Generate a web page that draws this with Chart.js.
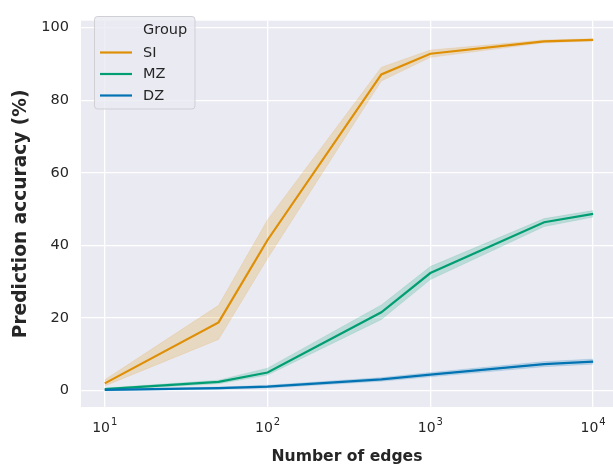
<!DOCTYPE html>
<html>
  <head>
    <meta charset="UTF-8" />
    <title>Prediction accuracy</title>
    <script src="https://cdn.jsdelivr.net/npm/chart.js@4.4.0/dist/chart.umd.min.js"></script>
    <style>
      body { margin: 0; background: #ffffff; overflow: hidden; }
      #chartContainer { width: 613px; height: 468px; }
    </style>
  </head>
  <body>
    <div id="chartContainer"><canvas id="chart" width="613" height="468"></canvas></div>
    <script>
      // values
      const edges = [10, 50, 100, 500, 1000, 5000, 10000];
      const groups = ["SI", "MZ", "DZ"];
      const colors = ["#DE8F05", "#029E73", "#0173B2"];

      const siMean = [2.0, 18.8, 41.5, 87.1, 92.8, 96.2, 96.6];
      const siLow = [1.3, 14.1, 36.4, 85.3, 91.8, 95.8, 96.3];
      const siHigh = [3.0, 23.5, 47.1, 89.1, 93.8, 96.6, 96.9];

      const mzMean = [0.45, 2.4, 5.0, 21.6, 32.4, 46.4, 48.7];
      const mzLow = [0.2, 1.9, 4.3, 19.6, 30.6, 45.2, 47.8];
      const mzHigh = [0.7, 2.9, 6.2, 23.6, 34.2, 47.4, 49.6];

      const dzMean = [0.2, 0.7, 1.1, 3.1, 4.4, 7.3, 8.0];
      const dzLow = [0.0, 0.4, 0.7, 2.6, 3.8, 6.6, 7.3];
      const dzHigh = [0.4, 1.0, 1.5, 3.6, 5.0, 8.0, 8.7];

      const xTicks = [10, 100, 1000, 10000];
      const xTickBase = "10";
      const xTickExp = ["1", "2", "3", "4"];
      const yTicks = [0, 20, 40, 60, 80, 100];

      const series = [
        { mean: siMean, low: siLow, high: siHigh },
        { mean: mzMean, low: mzLow, high: mzHigh },
        { mean: dzMean, low: dzLow, high: dzHigh },
      ];

      const FONT = "'DejaVu Sans', sans-serif";
      const TEXT = "#262626";

      function alpha(hex, a) {
        const n = parseInt(hex.slice(1), 16);
        return `rgba(${(n >> 16) & 255},${(n >> 8) & 255},${n & 255},${a})`;
      }
      const pts = (arr) => arr.map((v, i) => ({ x: edges[i], y: v }));

      const datasets = [];
      series.forEach((s, g) => {
        const base = (groups.length - 1 - g) * 3;
        datasets.push({
          label: groups[g] + " high",
          data: pts(s.high),
          borderColor: alpha(colors[g], 0.12),
          borderWidth: 1,
          pointRadius: 0,
          fill: false,
          order: base + 2,
        });
        datasets.push({
          label: groups[g] + " low",
          data: pts(s.low),
          borderColor: alpha(colors[g], 0.12),
          borderWidth: 1,
          backgroundColor: alpha(colors[g], 0.2),
          pointRadius: 0,
          fill: "-1",
          order: base + 1,
        });
        datasets.push({
          label: groups[g],
          data: pts(s.mean),
          borderColor: colors[g],
          borderWidth: 2.2,
          pointRadius: 0,
          fill: false,
          order: base,
        });
      });

      // plot background
      const plotBg = {
        id: "plotBg",
        beforeDraw(chart) {
          const { ctx, chartArea: a } = chart;
          ctx.save();
          ctx.fillStyle = "#EAEAF2";
          ctx.fillRect(a.left, a.top, a.right - a.left, a.bottom - a.top);
          ctx.restore();
        },
      };

      // 10^n labels with a raised exponent, like matplotlib mathtext
      const powerLabels = {
        id: "powerLabels",
        afterDraw(chart) {
          const { ctx } = chart;
          const xs = chart.scales.x;
          ctx.save();
          ctx.fillStyle = TEXT;
          ctx.textBaseline = "alphabetic";
          ctx.textAlign = "left";
          xTicks.forEach((v, i) => {
            ctx.font = `14px ${FONT}`;
            const wb = ctx.measureText(xTickBase).width;
            ctx.font = `10px ${FONT}`;
            const we = ctx.measureText(xTickExp[i]).width;
            const x0 = xs.getPixelForValue(v) - (wb + 1 + we) / 2;
            ctx.font = `14px ${FONT}`;
            ctx.fillText(xTickBase, x0, 431.5);
            ctx.font = `10px ${FONT}`;
            ctx.fillText(xTickExp[i], x0 + wb + 1, 425);
          });
          ctx.restore();
        },
      };

      // seaborn style legend box with "Group" as first entry
      const groupLegend = {
        id: "groupLegend",
        afterDatasetsDraw(chart) {
          const { ctx } = chart;
          const x = 94.5, y = 16.5, w = 100.5, h = 92.5, r = 3;
          ctx.save();
          ctx.beginPath();
          ctx.roundRect(x, y, w, h, r);
          ctx.fillStyle = "rgba(234,234,242,0.8)";
          ctx.fill();
          ctx.strokeStyle = "#cfcfd4";
          ctx.lineWidth = 1;
          ctx.stroke();
          ctx.font = `14.5px ${FONT}`;
          ctx.fillStyle = TEXT;
          ctx.textBaseline = "middle";
          ctx.fillText("Group", 143, 30);
          groups.forEach((name, i) => {
            const yy = 52.5 + i * 21.5;
            ctx.beginPath();
            ctx.moveTo(100, yy);
            ctx.lineTo(132, yy);
            ctx.strokeStyle = colors[i];
            ctx.lineWidth = 2.2;
            ctx.stroke();
            ctx.fillText(name, 143, yy + 0.5);
          });
          ctx.restore();
        },
      };

      new Chart(document.getElementById("chart"), {
        type: "line",
        data: { datasets },
        plugins: [plotBg, groupLegend, powerLabels],
        options: {
          responsive: false,
          devicePixelRatio: 1,
          animation: false,
          layout: { padding: { top: 8, right: 0, left: 0, bottom: 0 } },
          plugins: { legend: { display: false }, tooltip: { enabled: false } },
          elements: { line: { tension: 0 } },
          scales: {
            x: {
              type: "logarithmic",
              min: Math.pow(10, 0.854),
              max: Math.pow(10, 4.122),
              border: { display: false },
              grid: { color: "#ffffff", lineWidth: 1.3, drawTicks: false },
              afterBuildTicks(scale) {
                scale.ticks = xTicks.map((v) => ({ value: v }));
              },
              afterFit(scale) {
                scale.height = 61;
              },
              ticks: { display: false },
              title: {
                display: true,
                text: "Number of edges",
                color: TEXT,
                font: { family: FONT, size: 15.6, weight: "bold" },
                padding: { top: 0, bottom: 2 },
              },
            },
            y: {
              type: "linear",
              min: -4.5,
              max: 101.9,
              border: { display: false },
              grid: { color: "#ffffff", lineWidth: 1.3, drawTicks: false },
              afterBuildTicks(scale) {
                scale.ticks = yTicks.map((v) => ({ value: v }));
              },
              afterFit(scale) {
                scale.width = 81;
              },
              ticks: {
                padding: 12,
                color: TEXT,
                font: { family: FONT, size: 14.5 },
              },
              title: {
                display: true,
                text: "Prediction accuracy (%)",
                color: TEXT,
                font: { family: FONT, size: 18.6, weight: "bold" },
                padding: { top: 10, bottom: 0 },
              },
            },
          },
        },
      });
    </script>
  </body>
</html>
